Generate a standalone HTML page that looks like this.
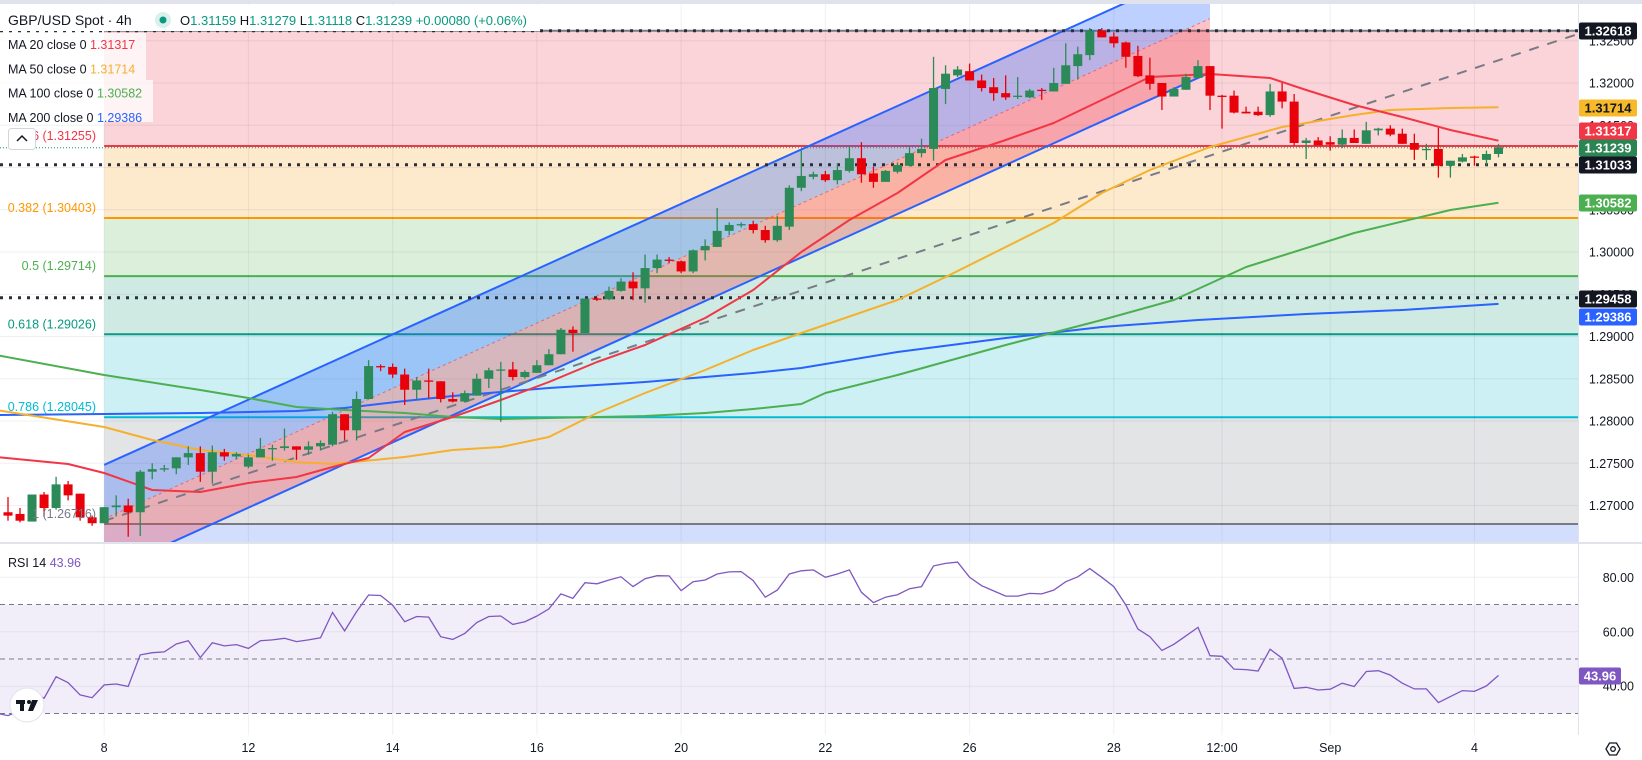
<!DOCTYPE html>
<html><head><meta charset="utf-8">
<style>
html,body{margin:0;padding:0;background:#fff;}
svg{display:block;font-family:"Liberation Sans",sans-serif;}
</style></head>
<body>
<svg id="chart" width="1642" height="760" viewBox="0 0 1642 760" xmlns="http://www.w3.org/2000/svg"></svg>
<script>
const opens=[1.2692,1.2690,1.2681,1.2713,1.2697,1.2725,1.2714,1.2686,1.2679,1.2698,1.2700,1.2692,1.2740,1.2743,1.2744,1.2757,1.2762,1.2740,1.2763,1.2758,1.2746,1.2757,1.2767,1.2768,1.2770,1.2766,1.2770,1.2772,1.2808,1.2789,1.2826,1.2865,1.2864,1.2855,1.2837,1.2848,1.2847,1.2826,1.2823,1.2830,1.2850,1.2860,1.2861,1.2852,1.2857,1.2866,1.2879,1.2908,1.2904,1.2945,1.2944,1.2954,1.2965,1.2957,1.2981,1.2991,1.2989,1.2977,1.3002,1.3006,1.3025,1.3032,1.3033,1.3026,1.3014,1.3030,1.3076,1.3089,1.3092,1.3085,1.3096,1.3111,1.3093,1.3083,1.3095,1.3102,1.3117,1.3122,1.3193,1.3209,1.3214,1.3203,1.3195,1.3188,1.3184,1.3183,1.3192,1.3190,1.3199,1.3220,1.3233,1.3262,1.3255,1.3248,1.3232,1.3209,1.3200,1.3184,1.3192,1.3206,1.3220,1.3185,1.3185,1.3166,1.3166,1.3162,1.3190,1.3178,1.3129,1.3132,1.3130,1.3127,1.3135,1.3128,1.3144,1.3146,1.3140,1.3129,1.3121,1.3122,1.3102,1.3107,1.3113,1.3109,1.3116];
const highs=[1.2710,1.2697,1.2713,1.2716,1.2734,1.2729,1.2714,1.2688,1.2698,1.2712,1.2708,1.2742,1.2750,1.2748,1.2757,1.2770,1.2770,1.2771,1.2767,1.2763,1.2760,1.2780,1.2772,1.2791,1.2770,1.2776,1.2777,1.2811,1.2808,1.2835,1.2872,1.2867,1.2868,1.2862,1.2852,1.2862,1.2847,1.2834,1.2836,1.2856,1.2863,1.2870,1.2870,1.2860,1.2872,1.2885,1.2910,1.2912,1.2945,1.2946,1.2959,1.2969,1.2976,1.2997,1.2997,1.2994,1.2990,1.3003,1.3015,1.3052,1.3035,1.3035,1.3037,1.3031,1.3043,1.3079,1.3120,1.3095,1.3096,1.3105,1.3126,1.3130,1.3101,1.3097,1.3106,1.3125,1.3134,1.3231,1.3221,1.3220,1.3223,1.3210,1.3206,1.3209,1.3207,1.3193,1.3194,1.3218,1.3247,1.3243,1.3265,1.3265,1.3260,1.3249,1.3244,1.3230,1.3200,1.3195,1.3211,1.3227,1.3220,1.3186,1.3191,1.3172,1.3172,1.3199,1.3200,1.3187,1.3135,1.3136,1.3137,1.3145,1.3145,1.3154,1.3147,1.3150,1.3146,1.3140,1.3128,1.3147,1.3108,1.3116,1.3114,1.3120,1.3128];
const lows=[1.2682,1.2680,1.2681,1.2687,1.2695,1.2706,1.2682,1.2676,1.2679,1.2687,1.2663,1.2664,1.2731,1.2740,1.2737,1.2748,1.2728,1.2726,1.2753,1.2755,1.2744,1.2757,1.2753,1.2765,1.2754,1.2760,1.2765,1.2770,1.2777,1.2777,1.2826,1.2859,1.2851,1.2819,1.2826,1.2827,1.2822,1.2822,1.2822,1.2830,1.2839,1.2799,1.2848,1.2850,1.2857,1.2866,1.2879,1.2882,1.2904,1.2942,1.2943,1.2953,1.2943,1.2940,1.2975,1.2987,1.2975,1.2975,1.2990,1.3006,1.3020,1.3029,1.3022,1.3011,1.3012,1.3026,1.3072,1.3086,1.3083,1.3080,1.3094,1.3082,1.3076,1.3083,1.3093,1.3102,1.3112,1.3108,1.3175,1.3207,1.3203,1.3190,1.3179,1.3180,1.3181,1.3182,1.3180,1.3190,1.3199,1.3204,1.3227,1.3254,1.3242,1.3218,1.3207,1.3192,1.3168,1.3184,1.3192,1.3206,1.3168,1.3146,1.3164,1.3164,1.3161,1.3160,1.3170,1.3126,1.3110,1.3126,1.3120,1.3123,1.3129,1.3128,1.3138,1.3137,1.3128,1.3109,1.3109,1.3088,1.3088,1.3106,1.3102,1.3102,1.3112];
const closes=[1.2688,1.2682,1.2713,1.2697,1.2725,1.2712,1.2686,1.2679,1.2698,1.2700,1.2692,1.2740,1.2743,1.2744,1.2757,1.2762,1.2740,1.2763,1.2758,1.2761,1.2757,1.2767,1.2768,1.2770,1.2766,1.2770,1.2774,1.2808,1.2789,1.2826,1.2865,1.2864,1.2855,1.2837,1.2848,1.2847,1.2826,1.2823,1.2833,1.2850,1.2860,1.2861,1.2852,1.2858,1.2866,1.2879,1.2908,1.2904,1.2945,1.2944,1.2954,1.2965,1.2957,1.2981,1.2991,1.2990,1.2977,1.3002,1.3007,1.3025,1.3032,1.3033,1.3026,1.3014,1.3031,1.3076,1.3090,1.3092,1.3085,1.3097,1.3111,1.3092,1.3083,1.3096,1.3103,1.3117,1.3122,1.3194,1.3211,1.3216,1.3203,1.3194,1.3188,1.3183,1.3185,1.3191,1.3191,1.3200,1.3221,1.3234,1.3262,1.3254,1.3247,1.3231,1.3208,1.3199,1.3184,1.3193,1.3207,1.3220,1.3185,1.3184,1.3165,1.3164,1.3162,1.3190,1.3178,1.3129,1.3132,1.3126,1.3127,1.3135,1.3129,1.3144,1.3146,1.3139,1.3128,1.3121,1.3122,1.3102,1.3108,1.3112,1.3112,1.3116,1.3124];
const ma20Idx=[-1,5,8,12,16,20,24,27,30,33,37,41,45,49,53,58,62,66,70,74,78,83,87,91,95,100,105,108,112,116,120,124];
const ma20Val=[1.27574,1.27491,1.27385,1.27183,1.27160,1.27266,1.27337,1.27456,1.27562,1.27870,1.28047,1.28249,1.28462,1.28698,1.28899,1.29219,1.29550,1.30000,1.30379,1.30698,1.31089,1.31325,1.31527,1.31799,1.32071,1.32107,1.32059,1.31917,1.31740,1.31598,1.31444,1.31317];
const ma50Idx=[-1,8,12,16,20,24,27,33,37,41,45,49,53,58,62,66,74,78,83,87,91,95,100,106,112,115,120,124];
const ma50Val=[1.28130,1.27929,1.27775,1.27657,1.27598,1.27515,1.27491,1.27574,1.27657,1.27692,1.27811,1.28095,1.28331,1.28604,1.28840,1.29041,1.29432,1.29704,1.30059,1.30343,1.30698,1.30970,1.31243,1.31479,1.31621,1.31680,1.31704,1.31714];
const ma100Idx=[-1,8,16,20,24,28,33,37,41,45,49,53,58,62,66,68,74,83,91,97,103,112,120,124];
const ma100Val=[1.28781,1.28544,1.28367,1.28272,1.28166,1.28130,1.28095,1.28047,1.28024,1.28036,1.28047,1.28059,1.28095,1.28142,1.28201,1.28331,1.28544,1.28899,1.29195,1.29432,1.29822,1.30225,1.30497,1.30582];
const ma200Idx=[-1,8,16,24,28,33,37,41,45,49,53,58,62,66,74,83,91,99,108,116,124];
const ma200Val=[1.28071,1.28083,1.28095,1.28118,1.28154,1.28237,1.28296,1.28343,1.28391,1.28426,1.28462,1.28521,1.28568,1.28627,1.28817,1.28982,1.29112,1.29195,1.29266,1.29314,1.29386];
const rsiVals=[29.2,31,38,35.6,43.5,41.3,36.8,35.8,40.5,40.8,39.9,51.5,52.3,52.6,55.5,56.7,50.5,56.0,54.8,55.3,53.9,56.7,57.0,57.6,56.4,57.0,57.8,67.1,60.3,67.4,73.5,73.3,69.8,63.7,65.6,65.4,58.2,57.2,59.4,63.4,65.6,65.8,62.7,63.7,65.8,68.4,73.9,72.3,78.0,77.6,79.0,80.2,76.6,79.5,80.6,80.5,75.1,78.4,79.0,81.2,82.0,82.1,78.8,72.7,75.3,81.2,82.4,82.7,80.0,81.2,82.7,74.5,70.7,72.7,73.6,75.8,76.6,84.2,85.1,85.6,80.0,76.9,75.0,73.1,73.1,74.1,73.9,75.3,78.4,80.2,83.2,80.0,76.6,69.8,61.0,58.2,53.1,55.4,58.5,61.6,51.2,51.0,46.3,46.1,45.6,53.6,50.3,39.2,39.6,38.6,38.9,41.1,39.9,45.4,45.7,44.1,41.1,39.0,39.0,34.0,36.2,38.4,38.1,40.1,43.96];
const fibRatios=["0","0.236","0.382","0.5","0.618","0.786","1"];
const fibPrices=[1.32618,1.31255,1.30403,1.29714,1.29026,1.28045,1.26781];
const fibLabelPrices=["1.32618","1.31255","1.30403","1.29714","1.29026","1.28045","1.26716"];
const priceTicks=[1.325,1.32,1.315,1.31,1.305,1.30,1.295,1.29,1.285,1.28,1.275,1.27];
const rsiTicks=[80,60,40];
const rsiBands=[70,50,30];
const timeIdx=[8,20,32,44,56,68,80,92,101,110,122];
const timeLabels=["8","12","14","16","20","22","26","28","12:00","Sep","4"];
const dottedLevels=[1.32618,1.31033,1.29458];
const lastClose=1.31239;

const NS="http://www.w3.org/2000/svg";
const svg=document.getElementById('chart');
const PW=1578, PTOP=4, PBOT=542;
function X(i){return 8+i*12.02;}
function Y(p){return 83+(1.32-p)*8450;}
function RY(v){return 577.3+(80-v)*2.723;}
function el(tag,attrs,parent){const e=document.createElementNS(NS,tag);for(const k in attrs)e.setAttribute(k,attrs[k]);(parent||svg).appendChild(e);return e;}
function txt(s,x,y,attrs,parent){const t=el('text',Object.assign({x:x,y:y},attrs),parent);t.textContent=s;return t;}

// defs clip
const defs=el('defs',{});
const cp=el('clipPath',{id:'mainClip'},defs);el('rect',{x:0,y:PTOP,width:PW,height:PBOT-PTOP},cp);
const cc=el('clipPath',{id:'chanClip'},defs);el('rect',{x:X(8),y:PTOP,width:1210-X(8),height:PBOT-PTOP},cc);

// top bar
const topbar=el('rect',{x:0,y:0,width:1642,height:4,fill:'#e0e3eb'});



// fib zones
const zoneColors=['#fad4d8','#fde9cc','#dcefdb','#cfeae3','#ccf0f3','#e3e4e6'];
const fibG=el('g',{'clip-path':'url(#mainClip)'});


for(let k=0;k<6;k++){
  const z=el('rect',{x:X(8),y:Y(fibPrices[k]),width:PW-X(8),height:Y(fibPrices[k+1])-Y(fibPrices[k]),fill:zoneColors[k]},fibG);
  
  
}
const below=el('rect',{x:X(8),y:Y(fibPrices[6]),width:PW-X(8),height:PBOT-Y(fibPrices[6]),fill:'#d3defc'},fibG);



// grid
const grid=el('g',{stroke:'rgba(42,46,57,0.07)','stroke-width':1});


priceTicks.forEach(p=>{el('line',{x1:0,x2:PW,y1:Y(p),y2:Y(p)},grid);});
rsiTicks.forEach(v=>{el('line',{x1:0,x2:PW,y1:RY(v),y2:RY(v)},grid);});
timeIdx.forEach(i=>{el('line',{x1:X(i),x2:X(i),y1:PTOP,y2:735},grid);});

// channel
const chan=el('g',{'clip-path':'url(#chanClip)'});


function yu(x){return 465-0.4525*(x-104);}
function ym(x){return 519-0.4525*(x-104);}
function yl(x){return 573-0.4525*(x-104);}
const xa=104,xb=1210;
el('polygon',{points:`${xa},${yu(xa)} ${xb},${yu(xb)} ${xb},${ym(xb)} ${xa},${ym(xa)}`,fill:'rgba(41,98,255,0.3)'},chan);
el('polygon',{points:`${xa},${ym(xa)} ${xb},${ym(xb)} ${xb},${yl(xb)} ${xa},${yl(xa)}`,fill:'rgba(242,54,69,0.3)'},chan);
el('line',{x1:xa,y1:yu(xa),x2:xb,y2:yu(xb),stroke:'#2962ff','stroke-width':2},chan);
el('line',{x1:xa,y1:yl(xa),x2:xb,y2:yl(xb),stroke:'#2962ff','stroke-width':2},chan);
el('line',{x1:xa,y1:ym(xa),x2:xb,y2:ym(xb),stroke:'rgba(242,54,69,0.6)','stroke-width':1,'stroke-dasharray':'3 3'},chan);

// fib lines
const fibColors=['#787b86','#f23645','#ff9800','#4caf50','#089981','#00bcd4','#787b86'];
for(let k=0;k<7;k++){
  const l=el('line',{x1:X(8),x2:PW,y1:Y(fibPrices[k]),y2:Y(fibPrices[k]),stroke:fibColors[k],'stroke-width':2},fibG);
  
  
}
// current price dotted
const cur=el('line',{x1:0,x2:PW,y1:Y(lastClose)+0.5,y2:Y(lastClose)+0.5,stroke:'#089981','stroke-width':1,'stroke-dasharray':'1 2'});



// dotted horizontal lines
dottedLevels.forEach(p=>{
  const l=el('line',{x1:0,x2:PW,y1:Y(p),y2:Y(p),stroke:'#2a2e39','stroke-width':3,'stroke-dasharray':'3 6'});
  
  
});

// trend line dashed gray
const tl=el('line',{x1:104,y1:521,x2:PW,y2:34,stroke:'#787b86','stroke-width':2,'stroke-dasharray':'10 9','clip-path':'url(#mainClip)'});



// MAs
function maLine(idx,vals,color,name){
  const pts=idx.map((i,k)=>X(i).toFixed(1)+','+Y(vals[k]).toFixed(1)).join(' ');
  const pl=el('polyline',{points:pts,fill:'none',stroke:color,'stroke-width':2,'stroke-linejoin':'round','clip-path':'url(#mainClip)'});
  
  
}
maLine(ma200Idx,ma200Val,'#2962ff','ma200-line');
maLine(ma100Idx,ma100Val,'#4caf50','ma100-line');
maLine(ma50Idx,ma50Val,'#f5b02c','ma50-line');
maLine(ma20Idx,ma20Val,'#f23645','ma20-line');

// candles
const cg=el('g',{'clip-path':'url(#mainClip)'});


for(let i=0;i<opens.length;i++){
  const up=closes[i]>=opens[i];
  const col=up?'#2b8a57':'#e8000b';
  const x=X(i);
  const g=el('g',{},cg);
  
  
  el('line',{x1:x,x2:x,y1:Y(highs[i]),y2:Y(lows[i]),stroke:col,'stroke-width':1.3},g);
  const t=Y(Math.max(opens[i],closes[i])),b=Y(Math.min(opens[i],closes[i]));
  el('rect',{x:x-4.5,y:t,width:9,height:Math.max(1.3,b-t),fill:col},g);
}

// fib labels
const fibLblColors=['#787b86','#f23645','#ff9800','#4caf50','#089981','#00bcd4','#787b86'];
for(let k=1;k<7;k++){
  const t=txt(fibRatios[k]+' ('+fibLabelPrices[k]+')',96,Y(fibPrices[k])-6,{'font-size':12.5,fill:fibLblColors[k],'text-anchor':'end'});
  
  
}

// legend
const lg=el('g',{});


el('rect',{x:0,y:33,width:146,height:47,fill:'rgba(255,255,255,0.75)'},lg);
el('rect',{x:0,y:80,width:153,height:42,fill:'rgba(255,255,255,0.75)'},lg);
el('rect',{x:0,y:5,width:540,height:26,fill:'#fff'},lg);
const hdr=txt('GBP/USD Spot · 4h',8,25,{'font-size':14,fill:'#131722'},lg);


el('circle',{cx:163,cy:20,r:8,fill:'#d9f0ec'},lg);
el('circle',{cx:163,cy:20,r:3.5,fill:'#089981'},lg);
const ohlc=el('text',{x:180,y:25,'font-size':13,fill:'#089981'},lg);


[['O','1.31159 '],['H','1.31279 '],['L','1.31118 '],['C','1.31239 '],['','+0.00080 (+0.06%)']].forEach(([a,b])=>{
  const s1=el('tspan',{fill:'#131722'},ohlc);s1.textContent=a;
  const s2=el('tspan',{fill:'#089981'},ohlc);s2.textContent=b;
});
const maRows=[['MA 20 close 0','1.31317','#f23645'],['MA 50 close 0','1.31714','#f5b02c'],['MA 100 close 0','1.30582','#4caf50'],['MA 200 close 0','1.29386','#2962ff']];
maRows.forEach((r,k)=>{
  const t=el('text',{x:8,y:49+k*24.3,'font-size':12.5,fill:'#131722'},lg);
  
  
  const a=el('tspan',{},t);a.textContent=r[0]+'  ';
  const b=el('tspan',{fill:r[2]},t);b.textContent=r[1];
});
const btn=el('g',{});


el('rect',{x:8.5,y:128.5,width:27,height:21,rx:3,fill:'#fff',stroke:'#d1d4dc'},btn);
el('polyline',{points:'17,141 22,136 27,141',fill:'none',stroke:'#131722','stroke-width':1.5},btn);

// pane separator
el('line',{x1:0,x2:1642,y1:PBOT+1,y2:PBOT+1,stroke:'#e0e3eb','stroke-width':2});

// RSI pane
const rg=el('g',{});


el('rect',{x:0,y:RY(70),width:PW,height:RY(30)-RY(70),fill:'rgba(126,87,194,0.1)'},rg);
rsiBands.forEach(v=>{el('line',{x1:0,x2:PW,y1:RY(v),y2:RY(v),stroke:'#787b86','stroke-width':1,'stroke-dasharray':'5 4'},rg);});
const rpts=rsiVals.map((v,i)=>X(i).toFixed(1)+','+RY(v).toFixed(1)).join(' ');
const rl=el('polyline',{points:'0,'+RY(29.8).toFixed(1)+' '+rpts,fill:'none',stroke:'#7e57c2','stroke-width':1.3},rg);


const rt=el('text',{x:8,y:567,'font-size':12.5,fill:'#131722'},rg);


const r1=el('tspan',{},rt);r1.textContent='RSI 14  ';
const r2=el('tspan',{fill:'#7e57c2'},rt);r2.textContent='43.96';

// TV logo
const logo=el('g',{});


el('circle',{cx:27,cy:705,r:17,fill:'#fff',stroke:'#e0e3eb'},logo);
el('rect',{x:16,y:700,width:9,height:4,fill:'#131722'},logo);
el('rect',{x:20,y:700,width:4,height:11,fill:'#131722'},logo);
el('circle',{cx:29,cy:702,r:2,fill:'#131722'},logo);
el('polygon',{points:'32,700 38,700 33,711 28,711',fill:'#131722'},logo);

// price axis
const ax=el('g',{'font-size':12.5,fill:'#131722'});


el('line',{x1:PW+0.5,x2:PW+0.5,y1:PTOP,y2:735,stroke:'#e0e3eb'},ax);
priceTicks.forEach(p=>{
  const t=txt(p.toFixed(5),1634,Y(p)+4.5,{'text-anchor':'end'},ax);
  
  
});
rsiTicks.forEach(v=>{
  const t=txt(v.toFixed(2),1634,RY(v)+4.5,{'text-anchor':'end'},ax);
  
  
});
const boxes=[['1.32618',31,'#131722','#fff'],['1.31714',108,'#f7b928','#131722'],['1.31317',131,'#f23645','#fff'],['1.31239',148,'#2b8553','#fff'],['1.31033',165,'#131722','#fff'],['1.30582',203,'#4caf50','#fff'],['1.29458',299,'#131722','#fff'],['1.29386',317,'#2962ff','#fff'],['43.96',676,'#7e57c2','#fff']];
boxes.forEach(b=>{
  const g=el('g',{},ax);
  
  
  const w=b[0].length>5?58:42;
  el('rect',{x:1579,y:b[1]-8.5,width:w,height:17,rx:2,fill:b[2]},g);
  txt(b[0],1579+w/2,b[1]+4.5,{'text-anchor':'middle',fill:b[3],'font-size':13,'font-weight':'bold'},g);
});

// time axis
const ta=el('g',{'font-size':12.5,fill:'#131722'});


timeIdx.forEach((i,k)=>{
  const t=txt(timeLabels[k],X(i),752,{'text-anchor':'middle'},ta);
  
  
});
// settings icon
const st=el('g',{});


el('polygon',{points:'1606,749 1609.5,743 1616.5,743 1620,749 1616.5,755 1609.5,755',fill:'none',stroke:'#131722','stroke-width':1.3},st);
el('circle',{cx:1613,cy:749,r:2.3,fill:'none',stroke:'#131722','stroke-width':1.3},st);
</script>
</body></html>
